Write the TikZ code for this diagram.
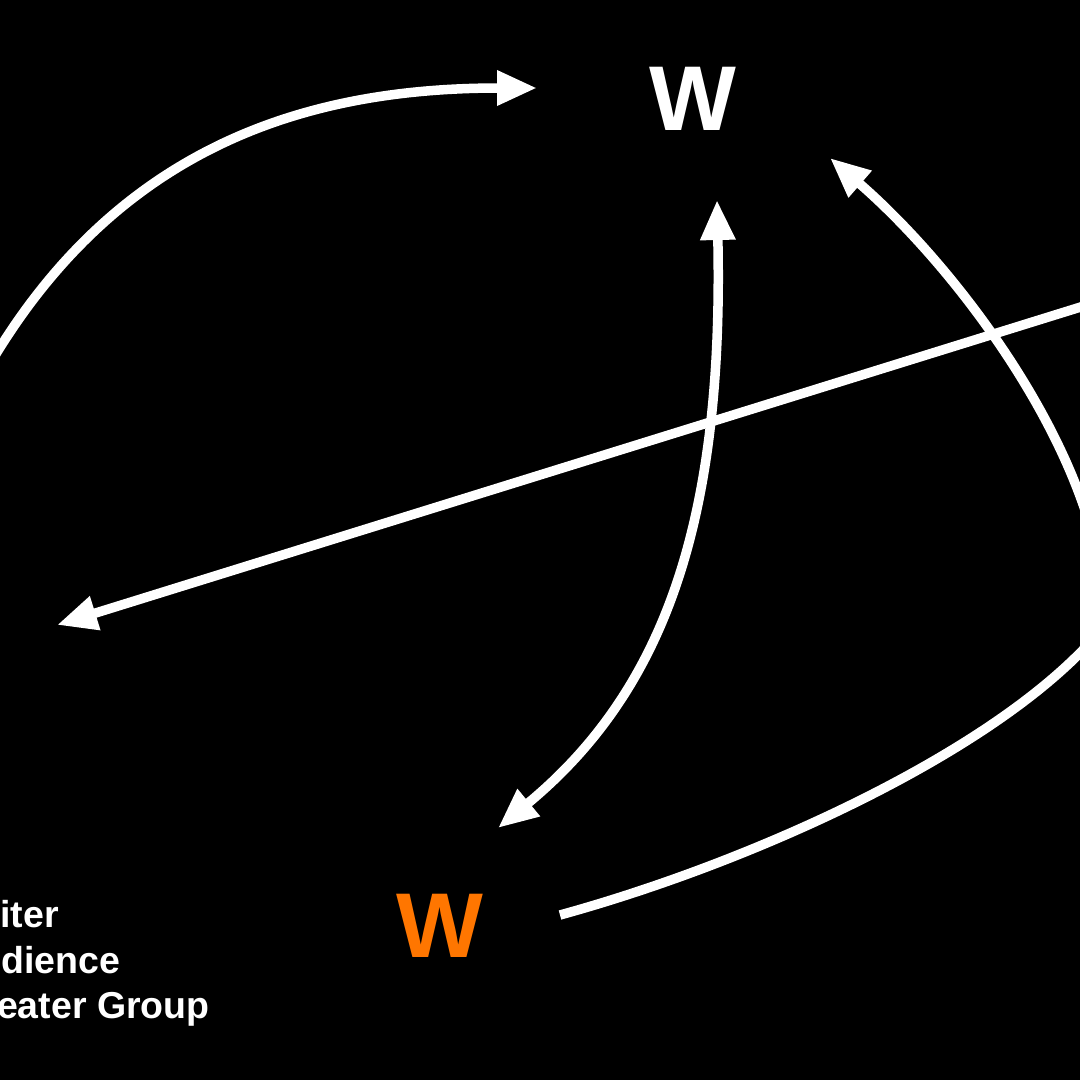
\documentclass[tikz,border=0pt]{standalone}
\usepackage{fontspec}
\setmainfont{Liberation Sans}
\usetikzlibrary{arrows.meta}
\definecolor{wOrange}{RGB}{255,118,0}
\tikzset{
  conn/.style={draw=white, line width=9.5pt},
  tip/.style={-{Triangle[length=40pt,width=33pt]}},
  biglabel/.style={font=\fontsize{92}{92}\selectfont\bfseries, inner sep=0pt},
  legend/.style={font=\fontsize{37.5}{37.5}\selectfont\bfseries, text=white, anchor=base west, inner sep=0pt}
}
\begin{document}
\begin{tikzpicture}[x=1pt,y=-1pt]
\useasboundingbox (0,0) rectangle (1080,1080);
\fill[black] (0,0) rectangle (1080,1080);
\clip (0,0) rectangle (1080,1080);
% labels
\node[biglabel, text=white] (wtop) at (693,99) {W};
\node[biglabel, text=wOrange] (wbot) at (440,926) {W};
\node[legend] (l1) at (-49,927) {Writer};
\node[legend] (l2) at (-49,973) {Audience};
\node[legend] (l3) at (-49,1018) {Theater Group};
% coordinates
\coordinate (a1s) at (-30,400);
\coordinate (a1e) at (537,88);
\coordinate (m1) at (498,828);
\coordinate (m2) at (717,200);
\coordinate (ls) at (1100,301);
\coordinate (le) at (57,625);
\coordinate (rs) at (560,915);
\coordinate (rm) at (1105,625);
\coordinate (re) at (830,158);
% connectors
\draw[conn, tip] (a1s) .. controls (100,150) and (300,88) .. (a1e);
\draw[conn, {Triangle[length=40pt,width=33pt]}-{Triangle[length=40pt,width=33pt]}] (m1) .. controls (665,690) and (724,520) .. (m2);
\draw[conn, tip] (ls) -- (le);
\draw[conn, tip] (rs) .. controls (760,860) and (1010,745) .. (rm) .. controls (1108,470) and (965,275) .. (re);
\end{tikzpicture}
\end{document}
